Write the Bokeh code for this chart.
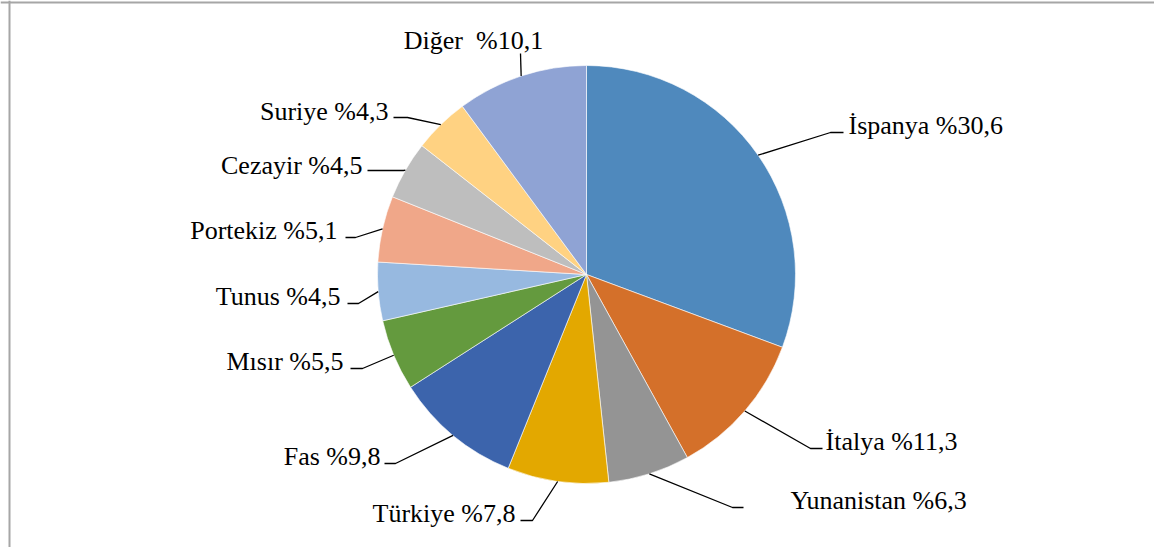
import math
from bokeh.plotting import figure
from bokeh.models import Range1d, Span, ColumnDataSource
from bokeh.embed import file_html
from bokeh.resources import INLINE
from bokeh.core.properties import value

# ---- data ----
names = ["İspanya", "İtalya", "Yunanistan", "Türkiye", "Fas", "Mısır",
         "Tunus", "Portekiz", "Cezayir", "Suriye", "Diğer"]
shares = [30.6, 11.3, 6.3, 7.8, 9.8, 5.5, 4.5, 5.1, 4.5, 4.3, 10.1]
colors = ["#4F89BD", "#D4702A", "#949494", "#E3A800", "#3C64AC", "#649A3E",
          "#97B9E0", "#F0A789", "#BEBEBE", "#FFD282", "#8FA3D4"]
label_sep = [" ", " ", " ", " ", " ", " ", " ", " ", " ", " ", " \u00a0"]

# ---- layout (page pixel coordinates) ----
W, H = 1154, 547
def Y(py):
    return H - py

CX, CY, R = 586, Y(274), 209
TEXT_SHIFT = -7
# label anchor (x, baseline y, align)
label_pos = [(848, 132, "left"), (825, 448, "left"), (790, 507, "left"),
             (515, 520, "right"), (380, 463, "right"), (343, 368, "right"),
             (340, 303, "right"), (337, 237, "right"), (362, 172, "right"),
             (388, 118, "right"), (473, 47, "center")]
# leader elbow and end points
leader_pts = [((830, 132), (843, 132)), ((810, 448), (822, 448)),
              ((732, 507), (743, 507)), ((532, 520), (520, 520)),
              ((395, 463), (384, 463)), ((362, 368), (350, 368)),
              ((358, 303), (347, 303)), ((355, 237), (345, 237)),
              ((403, 170), (367, 170)), ((407, 117), (393, 117)),
              ((520, 53), (520, 53))]

total = sum(shares)
starts, ends, mids = [], [], []
cum = 0.0
for v in shares:
    f0 = cum / total
    cum += v
    f1 = cum / total
    a0 = math.pi / 2 - 2 * math.pi * f0
    a1 = math.pi / 2 - 2 * math.pi * f1
    starts.append(a1)
    ends.append(a0)
    mids.append((a0 + a1) / 2)

labels = [f"{n}{s}%{v:.1f}".replace(".", ",") for n, s, v in zip(names, label_sep, shares)]

src = ColumnDataSource(dict(start=starts, end=ends, color=colors, name=names, share=shares))

p = figure(width=W, height=H, output_backend="svg", toolbar_location=None,
           x_range=Range1d(0, W), y_range=Range1d(0, H),
           min_border=0, min_border_left=0, min_border_right=0,
           min_border_top=0, min_border_bottom=0)
p.axis.visible = False
p.grid.visible = False
p.outline_line_color = None
p.background_fill_color = "white"
p.border_fill_color = "white"

p.wedge(x=CX, y=CY, radius=R, start_angle="start", end_angle="end",
        fill_color="color", line_color="white", line_width=0.6, source=src)

# leaders
xs, ys = [], []
for m, (elb, end) in zip(mids, leader_pts):
    ex = CX + R * math.cos(m)
    ey = CY + R * math.sin(m)
    xs.append([ex, elb[0], end[0]])
    ys.append([ey, Y(elb[1]), Y(end[1])])
p.multi_line(xs=xs, ys=ys, line_color="black", line_width=1.3)

# labels
for lab, (lx, ly, al) in zip(labels, label_pos):
    p.text(x=[lx], y=[Y(ly + TEXT_SHIFT)], text=[lab], text_align=al, text_baseline="alphabetic",
           text_font=value("Liberation Serif"), text_font_size="26px", text_color="black")

# chart-area border (left and top)
p.add_layout(Span(location=9, dimension="height", line_color="#A6A6A6", line_width=2))
p.add_layout(Span(location=H - 2, dimension="width", line_color="#A6A6A6", line_width=2))

open("out.html", "w").write(file_html(p, INLINE))
